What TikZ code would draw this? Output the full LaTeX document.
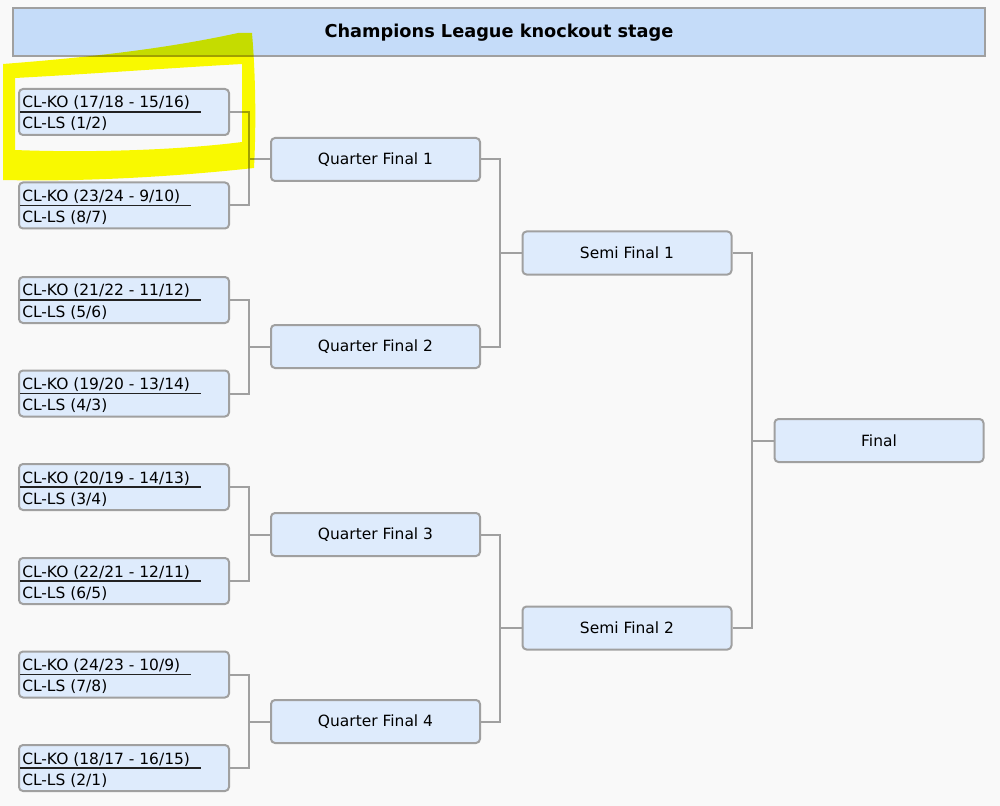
\documentclass[tikz,border=0pt]{standalone}
\usepackage{fontspec}
\setmainfont{DejaVu Sans}
\definecolor{bgcol}{HTML}{F9F9F9}
\definecolor{headfill}{HTML}{C5DCF9}
\definecolor{boxfill}{HTML}{DEEBFC}
\definecolor{boxborder}{HTML}{A0A0A0}
\definecolor{conncol}{HTML}{A0A0A0}
\definecolor{ulcol}{HTML}{222222}
\definecolor{hlyellow}{HTML}{FFFF00}
\tikzset{
  headbox/.style={draw=boxborder, fill=headfill, line width=1.5pt, minimum width=729pt, minimum height=36pt, inner sep=0pt, font=\fontsize{13.3}{15}\selectfont\bfseries},
  r16box/.style={draw=boxborder, fill=boxfill, rounded corners=3pt, line width=1.5pt, minimum width=157.5pt, minimum height=34.5pt, inner sep=0pt},
  stagebox/.style={draw=boxborder, fill=boxfill, rounded corners=3pt, line width=1.5pt, minimum width=156.75pt, minimum height=32.25pt, inner sep=0pt, font=\fontsize{11.6}{13}\selectfont},
  txt/.style={inner sep=0pt, font=\fontsize{11.6}{13}\selectfont},
  conn/.style={draw=conncol, line width=1.5pt},
  uline/.style={draw=ulcol, line width=0.8pt},
  hl/.style={fill=hlyellow},
}
\newcommand\roundsixteen[4]{%
  \node[r16box] (#1) at (124,#2) {};
  \node[txt, anchor=base west] (#1t) at ([shift={(-102,-4)}]#1.center) {#3};
  \node[txt, anchor=base west] (#1b) at ([shift={(-102,17)}]#1.center) {#4};
  \coordinate (#1u) at (#1t.base east |- #1.center);
  \draw[uline] ([xshift=-78pt]#1.center) -- ([xshift=8pt]#1u);
}
\begin{document}
\begin{tikzpicture}[x=0.75pt, y=-0.75pt]
\fill[bgcol] (0,0) rectangle (1000,806);
\useasboundingbox (0,0) rectangle (1000,806);

\node[headbox] (title) at (499,32.5) {Champions League knockout stage};

\roundsixteen{r1}{112}{CL-KO (17/18 - 15/16)}{CL-LS (1/2)}
\roundsixteen{r2}{205.5}{CL-KO (23/24 - 9/10)}{CL-LS (8/7)}
\roundsixteen{r3}{300}{CL-KO (21/22 - 11/12)}{CL-LS (5/6)}
\roundsixteen{r4}{393.5}{CL-KO (19/20 - 13/14)}{CL-LS (4/3)}
\roundsixteen{r5}{487}{CL-KO (20/19 - 14/13)}{CL-LS (3/4)}
\roundsixteen{r6}{581}{CL-KO (22/21 - 12/11)}{CL-LS (6/5)}
\roundsixteen{r7}{674.5}{CL-KO (24/23 - 10/9)}{CL-LS (7/8)}
\roundsixteen{r8}{768}{CL-KO (18/17 - 16/15)}{CL-LS (2/1)}

\node[stagebox] (qf1) at (375.5,159.5) {Quarter Final 1};
\node[stagebox] (qf2) at (375.5,346.5) {Quarter Final 2};
\node[stagebox] (qf3) at (375.5,534.5) {Quarter Final 3};
\node[stagebox] (qf4) at (375.5,721.5) {Quarter Final 4};

\node[stagebox] (sf1) at (627,253) {Semi Final 1};
\node[stagebox] (sf2) at (627,628) {Semi Final 2};

\node[stagebox] (fin) at (879,440.5) {Final};

\draw[conn] (r1.east) -- ++(19,0) |- (qf1.west);
\draw[conn] (r2.east) -- ++(19,0) |- (qf1.west);
\draw[conn] (r3.east) -- ++(19,0) |- (qf2.west);
\draw[conn] (r4.east) -- ++(19,0) |- (qf2.west);
\draw[conn] (r5.east) -- ++(19,0) |- (qf3.west);
\draw[conn] (r6.east) -- ++(19,0) |- (qf3.west);
\draw[conn] (r7.east) -- ++(19,0) |- (qf4.west);
\draw[conn] (r8.east) -- ++(19,0) |- (qf4.west);

\draw[conn] (qf1.east) -- ++(19,0) |- (sf1.west);
\draw[conn] (qf2.east) -- ++(19,0) |- (sf1.west);
\draw[conn] (qf3.east) -- ++(19,0) |- (sf2.west);
\draw[conn] (qf4.east) -- ++(19,0) |- (sf2.west);

\draw[conn] (sf1.east) -- ++(19,0) |- (fin.west);
\draw[conn] (sf2.east) -- ++(19,0) |- (fin.west);

\begin{scope}[blend mode=multiply]
\fill[hl, even odd rule]
  (3,64) .. controls (80,58) and (160,50) .. (238,33) -- (252,33)
  .. controls (256,80) and (256,130) .. (254,168)
  .. controls (180,176) and (90,182) .. (3,180) -- cycle
  (15,78) -- (15,150) .. controls (90,153) and (180,150) .. (242,142)
  -- (242,64) .. controls (170,68) and (90,74) .. (15,78) -- cycle;
\end{scope}
\end{tikzpicture}
\end{document}
